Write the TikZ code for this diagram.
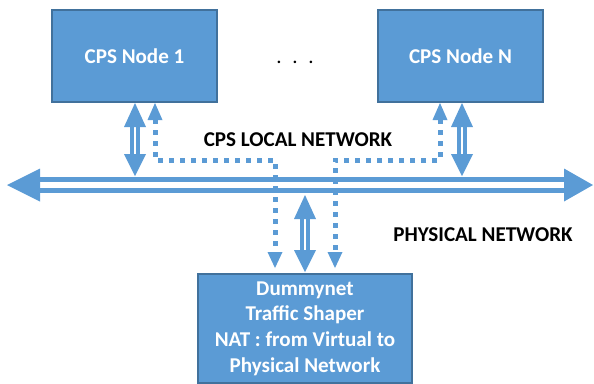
\documentclass[tikz,border=0pt]{standalone}
\usepackage{fontspec}
\setmainfont{Carlito}
\usetikzlibrary{calc}
\definecolor{boxfill}{HTML}{5B9BD5}
\definecolor{boxline}{HTML}{41719C}
\definecolor{arrcol}{HTML}{5B9BD5}
\begin{document}
\begin{tikzpicture}[x=0.75pt,y=-0.75pt,
  box/.style={draw=boxline, line width=1.1pt, fill=boxfill, text=white,
    font=\fontsize{15.8}{19.3}\selectfont\bfseries, align=center, inner sep=0pt},
  lbl/.style={text=black, font=\fontsize{15.8}{18}\selectfont\bfseries, inner sep=0pt},
  arr/.style={fill=arrcol, draw=none},
  vdbl/.style={draw=arrcol, line width=2.7pt, double=white, double distance=2.2pt},
  hdbl/.style={draw=arrcol, line width=3.9pt, double=white, double distance=4.4pt},
  dots/.style={draw=arrcol, line width=3.75pt, dash pattern=on 3.75pt off 4.5pt}]
\useasboundingbox (0,0) rectangle (594,383);
% boxes
\node[box, minimum width=123.75pt, minimum height=69pt] (n1) at (134.5,56) {CPS Node 1};
\node[box, minimum width=123.75pt, minimum height=69pt] (nN) at (460.5,56) {CPS Node N};
\node[box, minimum width=160.5pt, minimum height=81.75pt] (dn) at (305,328.5)
  {Dummynet\\Traffic Shaper\\NAT : from Virtual to\\Physical Network};
\node[text=black, font=\fontsize{15.8}{18}\selectfont, inner sep=0pt] (ell) at (295,62) {.\hspace{8pt}.\hspace{8pt}.};
% labels
\node[lbl] (lloc) at (298,140) {CPS LOCAL NETWORK};
\node[lbl] (lphy) at (483,235) {PHYSICAL NETWORK};
% bus
\coordinate (busL) at (7,185);
\coordinate (busR) at (593,185);
\draw[hdbl] ($(busL)+(32,0)$) -- ($(busR)+(-28,0)$);
\fill[arr] (busL) -- ++(33,-16.5) -- ++(0,33) -- cycle;
\fill[arr] (busR) -- ++(-29,-16.5) -- ++(0,33) -- cycle;
% vertical double arrows
\coordinate (a1t) at (135,103);
\coordinate (a1b) at (135,176);
\coordinate (aNt) at (462,103);
\coordinate (aNb) at (462,176);
\coordinate (amt) at (305,195);
\coordinate (amb) at (305,272);
\foreach \t/\b in {a1t/a1b, aNt/aNb, amt/amb}{
  \draw[vdbl] ($(\t)+(0,23)$) -- ($(\b)+(0,-21)$);
  \fill[arr] (\t) -- ++(-11,24) -- ++(22,0) -- cycle;
  \fill[arr] (\b) -- ++(-11,-22) -- ++(22,0) -- cycle;
}
% dotted arrows
\coordinate (d1t) at (155,103);
\coordinate (d1b) at (275,268);
\coordinate (dNt) at (440,103);
\coordinate (dNb) at (335,268);
\draw[dots] ($(d1t)+(0,16)$) |- (275,160) -- ($(d1b)+(0,-15)$);
\draw[dots] ($(dNt)+(0,16)$) |- (335,160) -- ($(dNb)+(0,-15)$);
\fill[arr] (d1t) -- ++(-7.5,17) -- ++(15,0) -- cycle;
\fill[arr] (dNt) -- ++(-7.5,17) -- ++(15,0) -- cycle;
\fill[arr] (d1b) -- ++(-7.5,-16) -- ++(15,0) -- cycle;
\fill[arr] (dNb) -- ++(-7.5,-16) -- ++(15,0) -- cycle;
\end{tikzpicture}
\end{document}
